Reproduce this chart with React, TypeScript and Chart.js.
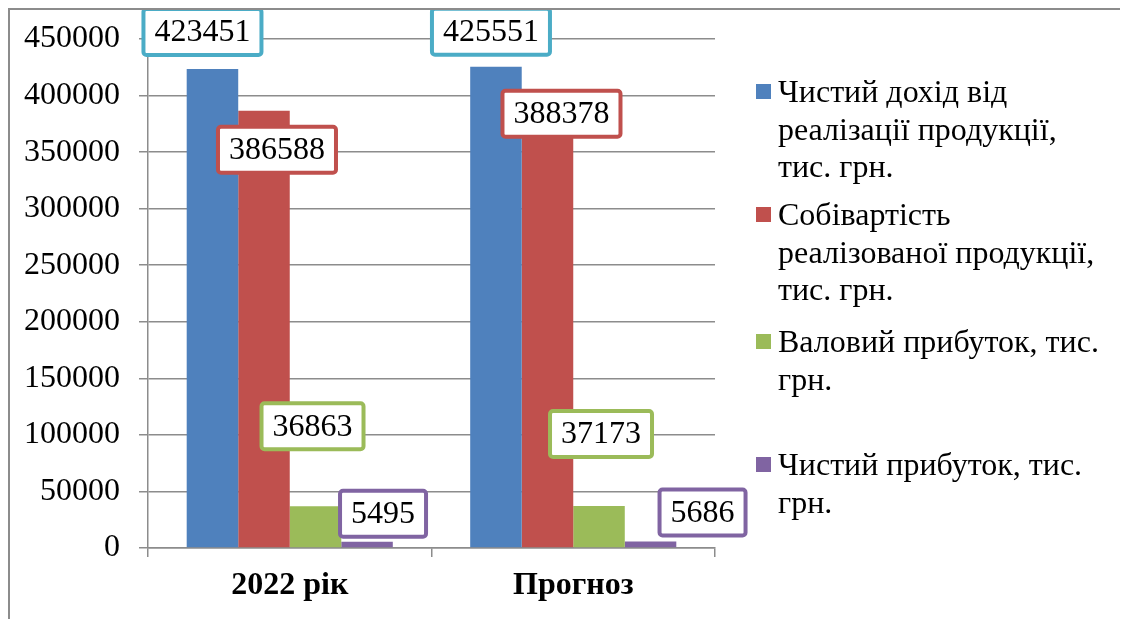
import React, { useEffect, useRef } from "react";
import { Chart, registerables } from "chart.js";

Chart.register(...registerables);

const categories = ["2022 рік", "Прогноз"];
const seriesNames = [
  "Чистий дохід від реалізації продукції, тис. грн.",
  "Собівартість реалізованої продукції, тис. грн.",
  "Валовий прибуток, тис. грн.",
  "Чистий прибуток, тис. грн.",
];
const revenue = [423451, 425551];
const cost = [386588, 388378];
const grossProfit = [36863, 37173];
const netProfit = [5495, 5686];
const yTicksMax = 450000;
const yTicksStep = 50000;

const legendLines = [
  ["Чистий дохід від", "реалізації продукції,", "тис. грн."],
  ["Собівартість", "реалізованої продукції,", "тис. грн."],
  ["Валовий прибуток, тис.", "грн."],
  ["Чистий прибуток, тис.", "грн."],
];

const barColors = ["#4F81BD", "#C0504D", "#9BBB59", "#8064A2"];
const labelBorderColors = ["#4BACC6", "#C0504D", "#9BBB59", "#8064A2"];
// label offsets (px) relative to bar top-center: [dx, dy] per dataset per category
const labelOffsets = [
  [[-10, -37], [-5, -35]],
  [[13, 39], [14, 5]],
  [[-3, -80], [2, -72]],
  [[16, -28], [52, -29]],
];

const FONT = "'Liberation Serif', 'Times New Roman', serif";
const FS = 32;
const W = 1115;
const H = 609;

const dataLabelPlugin = {
  id: "boxLabels",
  afterDatasetsDraw(chart: any) {
    const ctx = chart.ctx;
    ctx.save();
    ctx.font = `${FS}px ${FONT}`;
    ctx.textAlign = "center";
    ctx.textBaseline = "middle";
    chart.data.datasets.forEach((ds: any, i: number) => {
      const meta = chart.getDatasetMeta(i);
      meta.data.forEach((el: any, j: number) => {
        const txt = String(ds.data[j]);
        const [dx, dy] = labelOffsets[i][j];
        const cx = el.x + dx;
        const cy = el.y + dy;
        const tw = ctx.measureText(txt).width;
        const bw = tw + 22;
        const bh = 46;
        const x0 = cx - bw / 2;
        const y0 = cy - bh / 2;
        ctx.beginPath();
        if (ctx.roundRect) ctx.roundRect(x0, y0, bw, bh, 3);
        else ctx.rect(x0, y0, bw, bh);
        ctx.fillStyle = "#ffffff";
        ctx.fill();
        ctx.lineWidth = 4;
        ctx.strokeStyle = labelBorderColors[i];
        ctx.stroke();
        ctx.fillStyle = "#000000";
        ctx.fillText(txt, cx, cy + 1);
      });
    });
    ctx.restore();
  },
};

const legendPlugin = {
  id: "customLegend",
  afterDraw(chart: any) {
    const ctx = chart.ctx;
    ctx.save();
    ctx.font = `${FS}px ${FONT}`;
    ctx.textAlign = "left";
    ctx.textBaseline = "alphabetic";
    const starts = [92, 215, 342, 465];
    const lh = 37.5;
    legendLines.forEach((lines, i) => {
      const b = starts[i];
      ctx.fillStyle = barColors[i];
      ctx.fillRect(746, b - 18, 15, 15);
      ctx.fillStyle = "#000000";
      lines.forEach((ln, k) => {
        ctx.fillText(ln, 768, b + k * lh);
      });
    });
    ctx.restore();
  },
};

export default function App() {
  const ref = useRef<HTMLCanvasElement | null>(null);
  useEffect(() => {
    document.documentElement.style.overflow = "hidden";
    document.body.style.overflow = "hidden";
    const canvas = ref.current!;
    const gridColor = "#8c8c8c";
    const chart = new Chart(canvas, {
      type: "bar",
      data: {
        labels: categories,
        datasets: [revenue, cost, grossProfit, netProfit].map((d, i) => ({
          label: seriesNames[i],
          data: d,
          backgroundColor: barColors[i],
          borderWidth: 0,
          categoryPercentage: 0.727,
          barPercentage: 1,
        })),
      },
      options: {
        responsive: false,
        animation: false,
        devicePixelRatio: 1,
        layout: { padding: { top: 29, right: W - 705, left: 0, bottom: 0 } },
        plugins: {
          legend: { display: false },
          tooltip: { enabled: false },
        },
        scales: {
          x: {
            grid: {
              display: true,
              drawOnChartArea: false,
              drawTicks: true,
              tickLength: 9,
              color: gridColor,
              lineWidth: 1.5,
              offset: true,
            },
            border: { display: true, color: gridColor, width: 1.5 },
            ticks: {
              color: "#000",
              font: { family: FONT, size: FS, weight: "bold" },
              padding: 10,
              maxRotation: 0,
            },
            afterFit(scale: any) {
              scale.height = H - 538;
              scale.paddingLeft = 0;
              scale.paddingRight = 0;
            },
          },
          y: {
            min: 0,
            max: yTicksMax,
            ticks: {
              stepSize: yTicksStep,
              color: "#000",
              font: { family: FONT, size: FS },
              padding: 19,
              callback: (v: any) => String(v),
            },
            grid: {
              color: gridColor,
              lineWidth: 1.5,
              tickLength: 9,
            },
            border: { display: true, color: gridColor, width: 1.5 },
            afterFit(scale: any) {
              scale.width = 138;
              scale.paddingTop = 0;
              scale.paddingBottom = 0;
            },
          },
        },
      },
      plugins: [dataLabelPlugin, legendPlugin],
    });
    return () => chart.destroy();
  }, []);
  return (
    <div
      style={{
        borderTop: "2px solid #8c8c8c",
        borderLeft: "2px solid #8c8c8c",
        width: W,
        height: H,
        background: "#fff",
      }}
    >
      <canvas ref={ref} width={W} height={H} style={{ display: "block" }} />
    </div>
  );
}
